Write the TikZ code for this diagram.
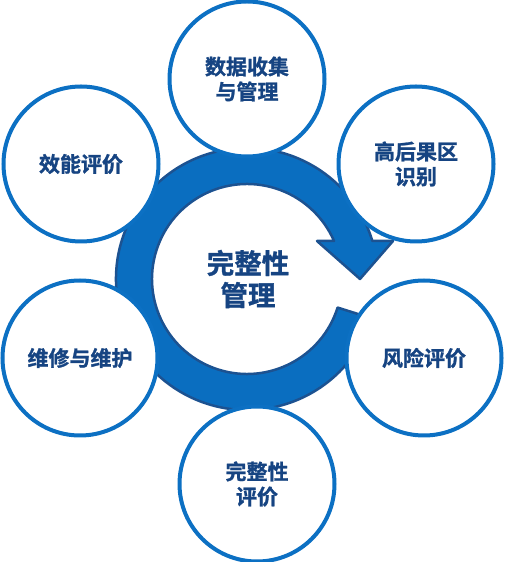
\documentclass[tikz,border=0pt]{standalone}
\usepackage{fontspec}
\newfontfamily\cjk{Noto Sans CJK SC}[BoldFont={Noto Sans CJK SC Bold},BoldFeatures={FakeBold=1.2}]
\usetikzlibrary{calc}
\definecolor{ringblue}{RGB}{10,110,192}
\definecolor{ringdark}{RGB}{28,82,145}
\definecolor{circblue}{RGB}{12,112,195}
\definecolor{txtblue}{RGB}{22,68,130}
\begin{document}
\begin{tikzpicture}[x=1pt,y=1pt,
  bubble/.style={circle,draw=circblue,line width=4pt,fill=white,minimum size=155pt,inner sep=0pt,
    align=center,text=txtblue,font=\cjk\bfseries\fontsize{21}{25}\selectfont},
  centertext/.style={align=center,text=txtblue,font=\cjk\bfseries\fontsize{27.5}{32}\selectfont}]
\useasboundingbox (0,0) rectangle (506,562);
\coordinate (C) at (247,283);
% ring arrow
\filldraw[fill=ringblue,draw=ringdark,line width=2.5pt,line join=round]
  ($(C)+(16.9:131)$) arc[start angle=16.9,end angle=342.5,radius=131]
  -- ($(C)+(342.5:95)$) arc[start angle=342.5,end angle=23.6,radius=95]
  -- (317,321) -- (360,283) -- (393,321) -- cycle;
\node[centertext] (center) at (248,283) {完整性\\管理};
% bubbles
\node[bubble] (data) at (247,483) {数据收集\\与管理};
\node[bubble] (hca) at (416,398) {高后果区\\识别};
\node[bubble] (risk) at (424,204) {风险评价};
\node[bubble] (integ) at (257,78) {完整性\\评价};
\node[bubble] (maint) at (80,204) {维修与维护};
\node[bubble] (eff) at (81,398) {效能评价};
\end{tikzpicture}
\end{document}
